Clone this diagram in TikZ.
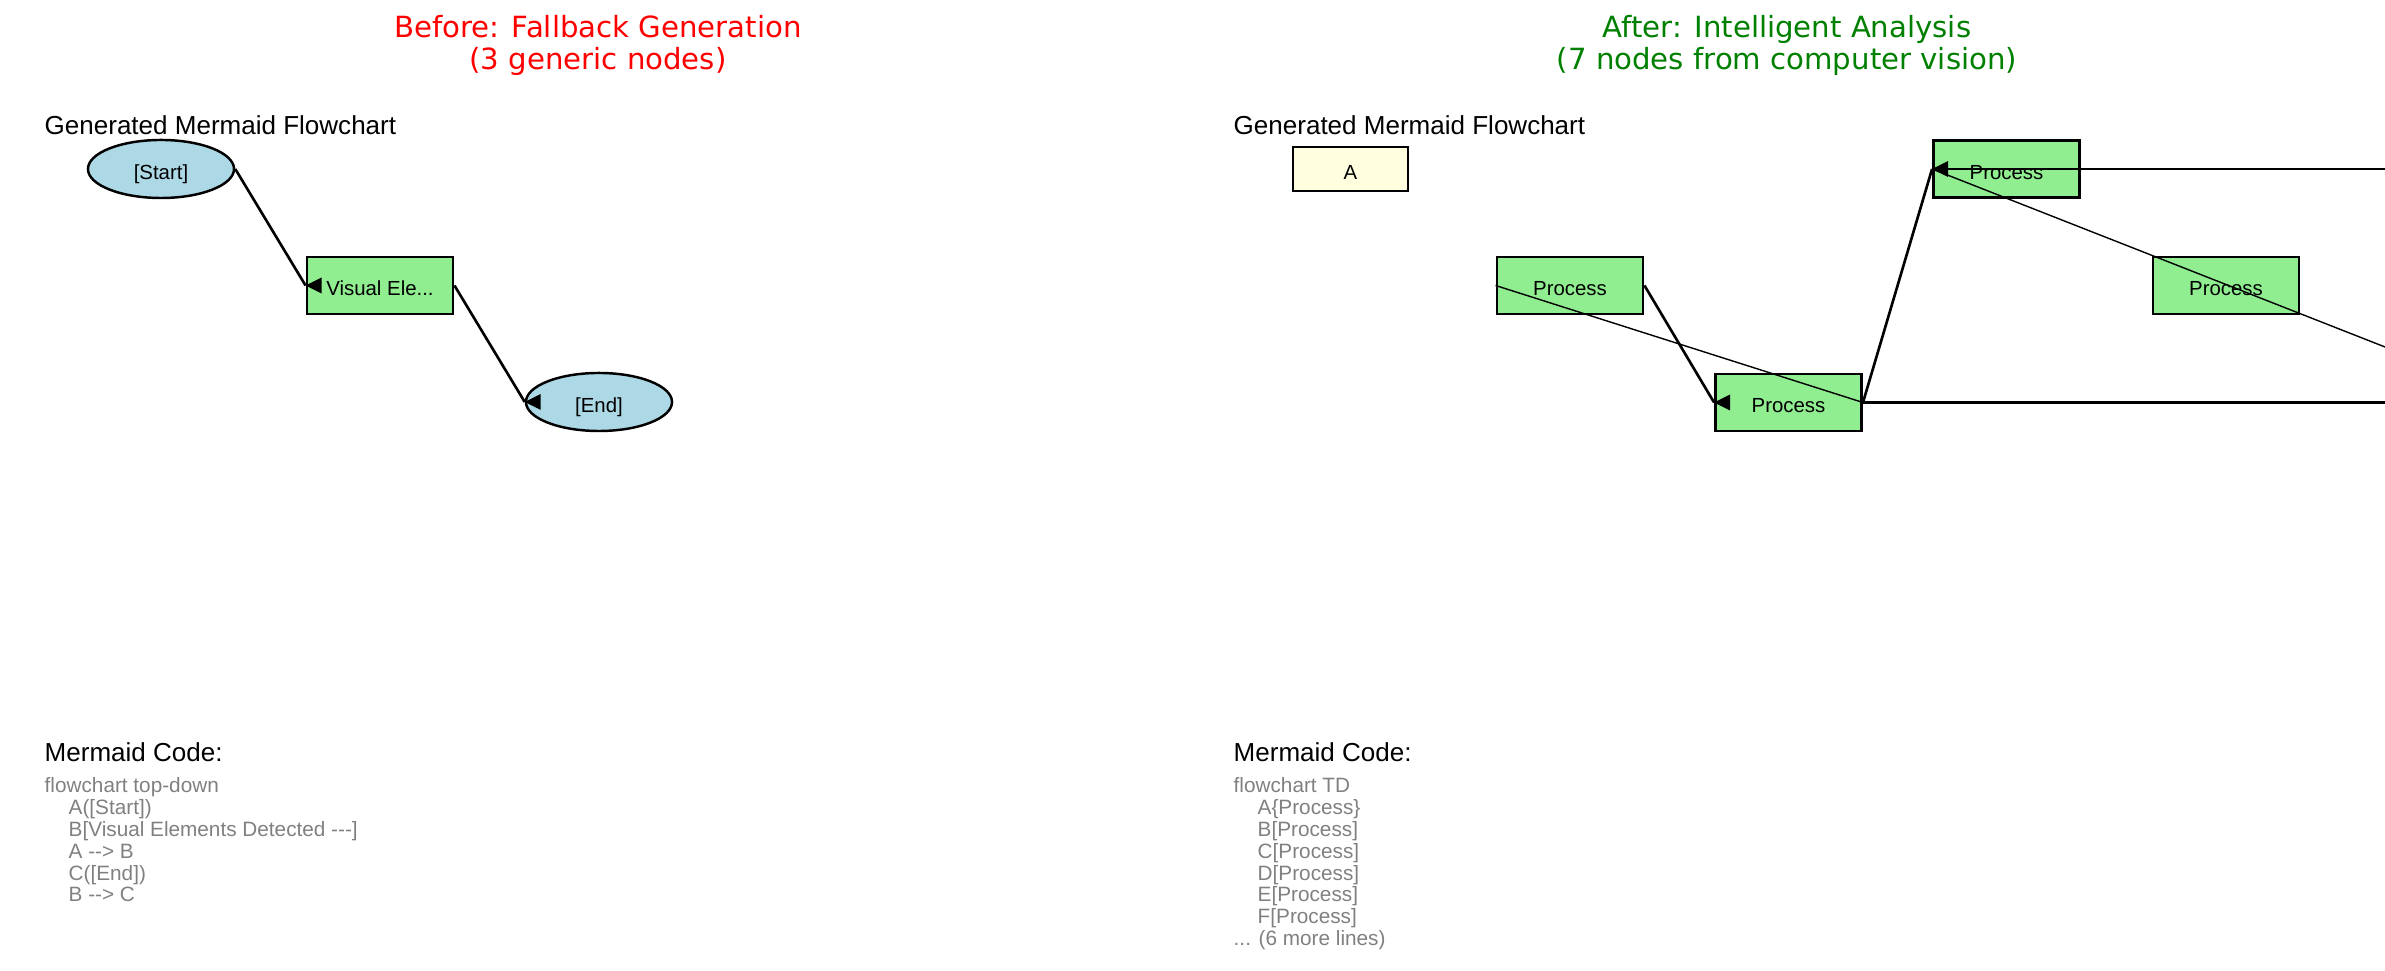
\documentclass[tikz,border=0pt]{standalone}
\usepackage[svgnames]{xcolor}
\usepackage{fontspec}
\setmainfont{Liberation Sans}
\newfontfamily\titlefont{DejaVu Sans}
\usetikzlibrary{shapes.geometric}
\tikzset{
  every node/.style={inner sep=0pt},
  panel title/.style={align=center,anchor=north,font=\titlefont\fontsize{8.3}{9.1}\selectfont},
  panel head/.style={anchor=base west,font=\fontsize{7.4}{8}\selectfont},
  code line/.style={anchor=base west,text=Gray,font=\fontsize{5.9}{6.5}\selectfont},
  term/.style={ellipse,draw,line width=0.7pt,fill=LightBlue,minimum width=1.46cm,minimum height=0.58cm,text height=5.8pt,text depth=0pt,font=\fontsize{5.8}{6.5}\selectfont},
  proc/.style={rectangle,draw,line width=0.8pt,fill=LightGreen,minimum width=1.46cm,minimum height=0.57cm,text height=5.8pt,text depth=0pt,font=\fontsize{5.8}{6.5}\selectfont},
  link/.style={draw,line width=0.75pt},
  faint link/.style={draw,line width=0.4pt},
  back tip/.pic={\fill (0,0) -- (16,-8) -- (16,8) -- cycle;},
}

\begin{document}
\begin{tikzpicture}[x=0.01cm,y=-0.01cm]
\useasboundingbox (0,0) rectangle (2385,971);
\node[panel title,text=Red] (ltitle) at (598,15) {Before: Fallback Generation\\(3 generic nodes)};
\node[panel title,text=Green] (rtitle) at (1787,15) {After: Intelligent Analysis\\(7 nodes from computer vision)};
\node[panel head] (lhead) at (44,135) {Generated Mermaid Flowchart};
\node[panel head] (rhead) at (1233,135) {Generated Mermaid Flowchart};

\node[term] (start) at (161,169) {[Start]};
\node[proc] (visual) at (380,285.5) {Visual Ele...};
\node[term] (stop) at (599,402) {[End]};
\draw[link] (start.east) -- (visual.west);
\draw[link] (visual.east) -- (stop.west);
\foreach \n in {visual,stop} \pic at (\n.west) {back tip};

\node[proc,fill=LightYellow,minimum width=1.15cm,minimum height=0.44cm] (a) at (1350.5,169) {A};
\node[proc] (p1) at (1570,285.5) {Process};
\node[proc] (p2) at (1788.5,402.5) {Process};
\node[proc] (p3) at (2006.5,169) {Process};
\node[proc] (p4) at (2226,285.5) {Process};
\coordinate (out1) at (2385,169);
\coordinate (out2) at (2385,402.5);
\coordinate (out3) at (2385,347);
\draw[link] (p1.east) -- (p2.west);
\draw[link] (p2.east) -- (p3.west);
\draw[link] (out1) -- (p3.west);
\draw[link] (p2.east) -- (out2);
\draw[faint link] (p1.west) -- (p2.east);
\draw[faint link] (p3.west) -- (out3);
\foreach \n in {p2,p3} \pic at (\n.west) {back tip};

\node[panel head] (lcode) at (44,762) {Mermaid Code:};
\node[panel head] (rcode) at (1233,762) {Mermaid Code:};
\foreach \ind/\txt [count=\i from 0] in {0/flowchart top-down,24/A([Start]),24/B[Visual Elements Detected -{}-{}-],24/A -{}-> B,24/C([End]),24/B -{}-> C}
  \node[code line] (lline\i) at (44+\ind,793+21.8*\i) {\txt};
\foreach \ind/\txt [count=\i from 0] in {0/flowchart TD,24/A\{Process\},24/B[Process],24/C[Process],24/D[Process],24/E[Process],24/F[Process]}
  \node[code line] (rline\i) at (1233+\ind,793+21.8*\i) {\txt};
\node[code line] (rmore) at (1233,946) {... (6 more lines)};
\end{tikzpicture}
\end{document}
